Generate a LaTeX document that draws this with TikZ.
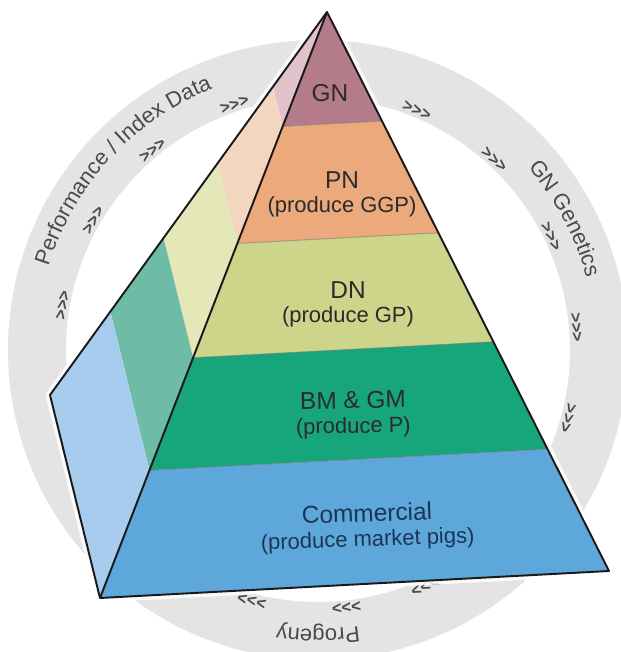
\documentclass[tikz,border=0pt]{standalone}
\usepackage{fontspec}
\setmainfont{Liberation Sans}
\usetikzlibrary{calc,positioning,decorations.text}

\definecolor{ringgray}{HTML}{E4E4E4}
\definecolor{ringtext}{HTML}{4A4A4A}
\definecolor{gnfront}{HTML}{B47B8B}
\definecolor{gnside}{HTML}{E2C2CA}
\definecolor{pnfront}{HTML}{ECA97C}
\definecolor{pnside}{HTML}{F4D6BF}
\definecolor{dnfront}{HTML}{CDD58A}
\definecolor{dnside}{HTML}{E4E7B7}
\definecolor{bmfront}{HTML}{17A67B}
\definecolor{bmside}{HTML}{6EBBA6}
\definecolor{cmfront}{HTML}{5EA7DA}
\definecolor{cmside}{HTML}{A8CCED}
\definecolor{labeltext}{HTML}{2B2B2B}
\definecolor{cmtext}{HTML}{1C3556}

\newcommand{\titlefont}{\fontsize{13.9}{15}\selectfont}
\newcommand{\subfont}{\fontsize{12.5}{14}\selectfont}
\newcommand{\ringfont}{\fontsize{12.5}{14}\selectfont}
\newcommand{\flowfont}{\fontsize{9.5}{11}\selectfont\bfseries}

\tikzset{
  tier/.style={font=\titlefont, text=labeltext, inner sep=0pt},
  tiersub/.style={font=\subfont, text=labeltext, inner sep=0pt},
  flow/.style={font=\flowfont, text=ringtext, inner sep=0pt},
  edge/.style={draw=black!90, line width=1.1pt, line join=round},
  tierline/.style={draw=black!55, line width=0.5pt, opacity=0.6},
}

\begin{document}
\begin{tikzpicture}[x=0.02cm, y=0.02cm]
  \useasboundingbox (0,0) rectangle (621,652);
  \clip (0,0) rectangle (621,652);

  % ring
  \coordinate (c) at (318,302);
  \fill[ringgray, even odd rule] (c) circle[radius=310] (c) circle[radius=252];
  \path[decorate, decoration={text along path, text align=center, text color=ringtext,
      text={|\ringfont|Performance / Index Data}}]
    ($(c)+(177.4:282)$) arc[start angle=177.4, end angle=97.4, radius=282];
  \path[decorate, decoration={text along path, text align=center, text color=ringtext,
      text={|\ringfont|GN Genetics}}]
    ($(c)+(58:278)$) arc[start angle=58, end angle=-2, radius=278];
  \path[decorate, decoration={text along path, text align=center, text color=ringtext,
      text={|\ringfont|Progeny}}]
    ($(c)+(-60:279)$) arc[start angle=-60, end angle=-120, radius=279];
  \foreach \a [count=\i] in {170,150,129.6,108.8,67.6,47.2,26,5,-15.3,-65.6,-83.7,-104.8}
    \node[flow, rotate=\a-90] (flow\i) at ($(c)+(\a:259)$) {>{}>{}>};

  % pyramid
  \coordinate (apex) at (327,640);
  \coordinate (back) at (50,257);
  \coordinate (bl) at (100,54);
  \coordinate (br) at (609,81);
  \draw[white, line width=5pt, opacity=0.85, line join=round]
    (apex) -- (back) -- (bl) -- (br) -- cycle;
  \foreach \lo/\hi/\lvl in {0/0.195/gn, 0.195/0.395/pn, 0.395/0.59/dn, 0.59/0.782/bm, 0.782/1/cm} {
    \fill[fill=\lvl front] ($(apex)!\lo!(bl)$) -- ($(apex)!\hi!(bl)$)
      -- ($(apex)!\hi!(br)$) -- ($(apex)!\lo!(br)$) -- cycle;
    \fill[fill=\lvl side] ($(apex)!\lo!(back)$) -- ($(apex)!\hi!(back)$)
      -- ($(apex)!\hi!(bl)$) -- ($(apex)!\lo!(bl)$) -- cycle;
  }
  \foreach \t in {0.195,0.395,0.59,0.782}
    \draw[tierline] ($(apex)!\t!(bl)$) -- ($(apex)!\t!(br)$);
  \draw[edge] (apex) -- (back) -- (bl) -- (br) -- cycle;
  \draw[edge] (apex) -- (bl);

  % labels
  \node[tier] (gn) at (330,559) {GN};
  \node[tier] (pn) at (342,472) {PN};
  \node[tiersub, below=4.5pt of pn] (pnsub) {(produce GGP)};
  \node[tier] (dn) at (348,362) {DN};
  \node[tiersub, below=4.5pt of dn] (dnsub) {(produce GP)};
  \node[tier, rotate=1] (bm) at (353,252) {BM \& GM};
  \node[tiersub, rotate=1, below=4.5pt of bm] (bmsub) {(produce P)};
  \node[tier, text=cmtext, rotate=2] (cm) at (367,139) {Commercial};
  \node[tiersub, text=cmtext, rotate=2, below=4.5pt of cm] (cmsub) {(produce market pigs)};
\end{tikzpicture}
\end{document}
